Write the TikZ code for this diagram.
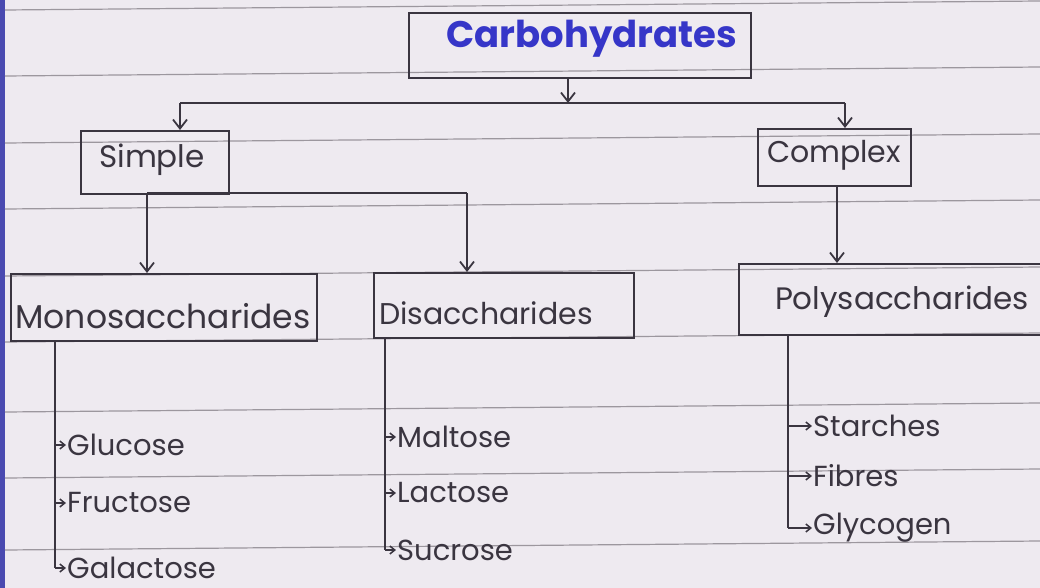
\documentclass[tikz,border=0pt]{standalone}
\usepackage{fontspec}
\setmainfont{Poppins}
\usetikzlibrary{arrows.meta}
\definecolor{paper}{HTML}{EEEAF0}
\definecolor{rule}{HTML}{9C979E}
\definecolor{ink}{HTML}{3A3540}
\definecolor{blueink}{HTML}{3636C8}
\definecolor{margin}{HTML}{4A4AB0}
\tikzset{
  box/.style={draw=ink, line width=2pt, inner sep=0pt, anchor=north west},
  lbl/.style={text=ink, font=\fontsize{31}{33}\selectfont},
  item/.style={text=ink, font=\fontsize{29}{31}\selectfont, anchor=west, inner sep=1pt},
  conn/.style={draw=ink, line width=1.8pt},
  arr/.style={conn, -{Straight Barb[length=9pt,width=14pt,line width=1.8pt]}},
  sarr/.style={conn, -{Straight Barb[length=5pt,width=8pt,line width=1.5pt]}},
  ruling/.style={draw=rule, line width=1.2pt}
}
\begin{document}
\begin{tikzpicture}[x=1pt,y=-1pt]
\fill[paper] (0,0) rectangle (1040,588);
\useasboundingbox (0,0) rectangle (1040,588);
\fill[margin] (0,0) rectangle (5,588);
% ruled lines
\foreach \yy in {10,76,143,209,276,342,412,478,550}
  \draw[ruling] (5,\yy) -- (1040,\yy-9);
% boxes
\node[box, minimum width=342pt, minimum height=65pt] (carbbox) at (408,12) {};
\node[text=blueink, font=\fontsize{37}{39}\selectfont\bfseries] (carb) at (592,39) {Carbohydrates};
\node[box, minimum width=148pt, minimum height=63pt] (simple) at (80,130) {};
\node[lbl] at (152,160) {Simple};
\node[box, minimum width=153pt, minimum height=57pt] (complex) at (757,128) {};
\node[lbl, font=\fontsize{30}{32}\selectfont] at (834,155) {Complex};
\node[box, minimum width=306pt, minimum height=67pt] (mono) at (10,273) {};
\node[lbl, font=\fontsize{33}{35}\selectfont] at (163,316) {Monosaccharides};
\node[box, minimum width=260pt, minimum height=65pt] (di) at (373,272) {};
\node[lbl, font=\fontsize{30}{32}\selectfont] at (486,313) {Disaccharides};
\node[box, minimum width=310pt, minimum height=71pt] (poly) at (738,263) {};
\node[lbl] at (902,302) {Polysaccharides};
% connectors level 1
\coordinate (j1) at (568,103);
\draw[arr] (carbbox.south -| j1) -- (j1);
\draw[conn] (j1) -- (180,103) coordinate (jl) (j1) -- (845,103) coordinate (jr);
\draw[arr] (jl) -- (jl |- simple.north);
\draw[arr] (jr) -- (jr |- complex.north);
% simple -> mono, di
\coordinate (js) at (147,193);
\coordinate (jd) at (467,193);
\draw[conn] (js) -- (jd);
\draw[arr] (js) -- (js |- mono.north);
\draw[arr] (jd) -- (jd |- di.north);
% complex -> poly
\coordinate (jc) at (837,185);
\draw[arr] (jc) -- (jc |- poly.north);
% items
\node[item] (glu) at (66,445) {Glucose};
\node[item] (fru) at (66,503) {Fructose};
\node[item] (gal) at (66,568) {Galactose};
\coordinate (mtop) at (55,340);
\draw[conn] (mtop) -- (gal.west -| mtop);
\draw[sarr] (glu.west -| mtop) -- (glu.west);
\draw[sarr] (fru.west -| mtop) -- (fru.west);
\draw[sarr] (gal.west -| mtop) -- (gal.west);
\node[item] (mal) at (396,437) {Maltose};
\node[item] (lac) at (396,493) {Lactose};
\node[item] (suc) at (396,550) {Sucrose};
\coordinate (dtop) at (385,337);
\draw[conn] (dtop) -- (suc.west -| dtop);
\draw[sarr] (mal.west -| dtop) -- (mal.west);
\draw[sarr] (lac.west -| dtop) -- (lac.west);
\draw[sarr] (suc.west -| dtop) -- (suc.west);
\node[item] (sta) at (812,426) {Starches};
\node[item] (fib) at (812,476) {Fibres};
\node[item] (gly) at (812,528) {Glycogen};
\coordinate (ptop) at (788,334);
\draw[conn] (ptop) -- (gly.west -| ptop);
\draw[sarr] (sta.west -| ptop) -- (sta.west);
\draw[sarr] (fib.west -| ptop) -- (fib.west);
\draw[sarr] (gly.west -| ptop) -- (gly.west);
\end{tikzpicture}
\end{document}
